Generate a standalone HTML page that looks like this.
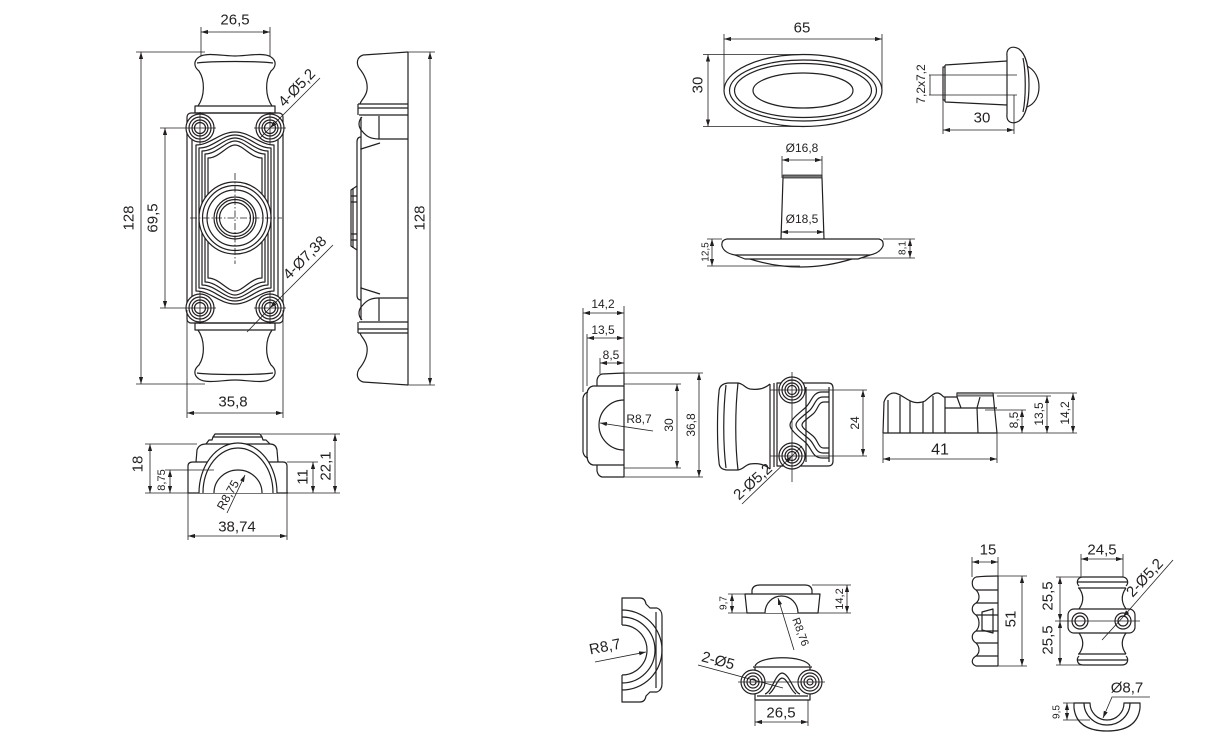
<!DOCTYPE html>
<html><head><meta charset="utf-8"><style>
html,body{margin:0;padding:0;background:#fff;}
svg{display:block;}
text{font-family:"Liberation Sans",Arial,sans-serif;fill:#231f20;}
</style></head><body>
<svg width="1206" height="736" viewBox="0 0 1206 736" xmlns="http://www.w3.org/2000/svg">
<defs>
<marker id="a" viewBox="0 0 10 6" refX="10" refY="3" markerWidth="7" markerHeight="4.2" markerUnits="userSpaceOnUse" orient="auto-start-reverse"><path d="M0,0 L10,3 L0,6z" fill="#231f20"/></marker>
</defs>

<g fill="none" stroke="#231f20" stroke-width="1.2" stroke-linejoin="round">

<g>
<path d="M199,57 C206,52 224,56 235,56 C246,56 264,52 271,57"/>
<path d="M199,57 C193,61 194,67 199,71 C205,80 205,96 198,106"/>
<path d="M271,57 C277,61 276,67 271,71 C265,80 265,96 272,106"/>
<path d="M197,63 C210,61 260,61 273,63"/>
<path d="M195,106 H275 V113 H195 Z"/>
</g>
<g transform="matrix(1 0 0 -1 0 436)">
<path d="M199,57 C206,52 224,56 235,56 C246,56 264,52 271,57"/>
<path d="M199,57 C193,61 194,67 199,71 C205,80 205,96 198,106"/>
<path d="M271,57 C277,61 276,67 271,71 C265,80 265,96 272,106"/>
<path d="M197,63 C210,61 260,61 273,63"/>
<path d="M195,106 H275 V113 H195 Z"/>
</g>
<rect x="187" y="113" width="96" height="210" rx="4"/>
<path d="M192,140 V296 M278,140 V296"/>
<path d="M196,145 C210,145 220,132 235,132 C250,132 260,145 274,145 L274,291 C260,291 250,304 235,304 C220,304 210,291 196,291 Z"/>
<path d="M199,148 C213,148 222,135 235,135 C248,135 257,148 271,148 L271,288 C257,288 248,301 235,301 C222,301 213,288 199,288 Z"/>
<path d="M202,151 C215,151 224,138 235,138 C246,138 255,151 268,151 L268,285 C255,285 246,298 235,298 C224,298 215,285 202,285 Z"/>
<path d="M205,154 C217,154 226,141 235,141 C244,141 253,154 265,154 L265,282 C253,282 244,295 235,295 C226,295 217,282 205,282 Z"/>
<path d="M208,158 C219,158 227,145 235,145 C243,145 251,158 262,158 L262,278 C251,278 243,291 235,291 C227,291 219,278 208,278 Z"/>
<g fill="#fff">
<circle cx="200" cy="128" r="14"/><circle cx="270" cy="128" r="14"/>
<circle cx="200" cy="308" r="14"/><circle cx="270" cy="308" r="14"/>
<circle cx="235" cy="218" r="36"/>
</g>
<circle cx="200" cy="128" r="11"/><circle cx="200" cy="128" r="8"/><circle cx="200" cy="128" r="5.5"/>
<circle cx="270" cy="128" r="11"/><circle cx="270" cy="128" r="8"/><circle cx="270" cy="128" r="5.5"/>
<circle cx="200" cy="308" r="11"/><circle cx="200" cy="308" r="8"/><circle cx="200" cy="308" r="5.5"/>
<circle cx="270" cy="308" r="11"/><circle cx="270" cy="308" r="8"/><circle cx="270" cy="308" r="5.5"/>
<circle cx="235" cy="218" r="32.5"/><circle cx="235" cy="218" r="28"/>
<circle cx="235" cy="218" r="21"/><circle cx="235" cy="218" r="18.5"/><circle cx="235" cy="218" r="15.5"/>

<g>
<path d="M363,55 L408,52"/>
<path d="M363,55 C357,57 356,63 359,68 C364,74 368,82 367,90 C366,97 361,100 360,104"/>
<path d="M358,104 H408 M358,108 H408 M359,115 H408 M358,104 V115"/>
<path d="M362,117 C358,121 358,127 362,131 C366,136 370,139 379,139"/>
<path d="M379,116 V139 H408"/>
<path d="M361,149 L380,143"/>
<path d="M361,117 V150"/>
</g>
<g transform="matrix(1 0 0 -1 0 437)">
<path d="M363,55 L408,52"/>
<path d="M363,55 C357,57 356,63 359,68 C364,74 368,82 367,90 C366,97 361,100 360,104"/>
<path d="M358,104 H408 M358,108 H408 M359,115 H408 M358,104 V115"/>
<path d="M362,117 C358,121 358,127 362,131 C366,136 370,139 379,139"/>
<path d="M379,116 V139 H408"/>
<path d="M361,149 L380,143"/>
<path d="M361,117 V150"/>
</g>
<path d="M361,148 V289"/>
<path d="M361,137 Q357,137 357,142 V295 Q357,300 361,300"/>
<path d="M357,186 L351,190 V246 L357,250"/>
<path d="M353,188 V248 M351,196 H357 M351,202 H357 M351,234 H357 M351,240 H357"/>
<path d="M408,52 V385"/>

<path d="M188,493 H288"/>
<path d="M188,493 V466 Q188,462 193,462 H283 Q287,462 287,466 V493"/>
<path d="M196,462 L197,450 Q199,444 206,444 H270 Q276,444 277,450 L278,462"/>
<path d="M206,444 L209,440 H212 L213,437 H262 L263,440 H266 L270,444"/>
<path d="M213,437 L215,434 H260 L262,437"/>
<path d="M199,493 A39,50 0 0 1 277,493" fill="#fff"/>
<path d="M203,493 A35,45 0 0 1 273,493"/>
<path d="M214,493 A24,23 0 0 1 262,493" fill="#fff"/>

<ellipse cx="803" cy="90.5" rx="79" ry="36"/>
<ellipse cx="803" cy="90.5" rx="73.5" ry="30.5"/>
<ellipse cx="803" cy="90.5" rx="68.5" ry="27"/>
<ellipse cx="803" cy="90.5" rx="50" ry="17.5"/>

<path d="M945,65 L1007,61 M945,102 L1007,105 M945,65 V102"/>
<path d="M945,67 H943 V100 H945"/>
<path d="M1007,56 V114"/>
<path d="M1007,56 C1006,48 1012,45 1019,49 C1026,54 1029,68 1029,85 C1029,102 1026,116 1019,121 C1012,125 1006,122 1007,114"/>
<path d="M1023,58 C1026,72 1026,98 1023,112"/>
<path d="M1027,66 C1035,70 1039,78 1039,87 C1039,96 1035,104 1027,107"/>

<path d="M783,178 L781,239 M822,178 L824,239"/>
<rect x="783" y="175" width="39" height="3" fill="#777" stroke-width="0.8"/>
<path d="M727,239 L879,239 Q884,240 883,246 Q880,253 870,255 L735,255 Q724,253 722,246 Q721,240 727,239 Z"/>
<path d="M735,255 L745,259 H858 L870,255"/>
<path d="M750,259 Q800,275 852,259"/>

<path d="M624,373 V477"/>
<path d="M624,373 L602,374 Q598,375 597,380 V386"/>
<path d="M624,386 H593 Q588,387 587,393 V457 Q588,464 593,465 H624"/>
<path d="M588,392 Q584,393 583,398 V452 Q584,457 588,458"/>
<path d="M597,465 V471 Q598,476 602,477 H624"/>
<path d="M624,400 A25,25 0 0 0 624,450"/>

<path d="M770,384 C764,389 758,390 750,389 C745,388 744,384 738,383 L728,383 Q719,384 719,392 C717,410 717,445 719,462 Q719,470 728,470 L738,470 C744,469 745,465 750,464 C758,463 764,464 770,469"/>
<path d="M726,385 C723,410 723,445 726,468"/>
<path d="M738,383 C735,410 735,445 738,470"/>
<path d="M770,384 V469 M774,383 V467"/>
<path d="M777,383 H828 Q833,383 833,388 V461 Q833,466 828,466 H777 Z"/>
<path d="M806,387 V462 M829,387 V462"/>
<path d="M829,392 H822 C812,392 812,402 805,408 C798,414 790,420 790,425 C790,430 798,436 805,442 C812,448 812,458 822,458 H829"/>
<path d="M829,397 H823 C815,397 815,406 809,411 C802,417 796,421 796,425 C796,429 802,433 809,439 C815,444 815,453 823,453 H829"/>
<path d="M829,402 H824 C818,402 818,410 813,414 C807,419 802,422 802,425 C802,428 807,431 813,436 C818,440 818,448 824,448 H829"/>
<g fill="#fff"><circle cx="792" cy="390" r="13"/><circle cx="792" cy="456" r="13"/></g>
<circle cx="792" cy="390" r="10"/><circle cx="792" cy="390" r="7"/><circle cx="792" cy="390" r="4.5"/>
<circle cx="792" cy="456" r="10"/><circle cx="792" cy="456" r="7"/><circle cx="792" cy="456" r="4.5"/>

<path d="M883,433 H997"/>
<path d="M883,433 L884,402 C886,396 890,393 894,393 C900,393 906,400 913,402 C917,403 921,403 925,401 C929,398 933,393 937,393 C941,393 942,396 944,397 H957 V393 H993 L997,433"/>
<rect x="957" y="393" width="36" height="3" fill="#aaa" stroke-width="0.8"/>
<path d="M888,400 V433 M900,396 V433 M910,401 V433 M923,402 V433 M933,396 V433 M945,397 V433"/>
<path d="M945,408 H997 M957,397 L961,408 M980,397 L977,408 L978,433"/>

<path d="M622,625 V598 H640 Q645,598 646,604 L650,608 H657 Q662,610 662,616 V684 Q662,690 657,692 H650 L646,696 Q645,702 640,702 H622 V675"/>
<path d="M622,675 A25,25 0 0 0 622,625"/>
<path d="M622,617 A33,33 0 0 1 622,683"/>
<path d="M622,610 A40,40 0 0 1 622,690"/>
<path d="M656,612 V688"/>

<path d="M752,594 V590 Q753,585 760,585 H805 Q811,585 812,590 V594"/>
<path d="M745,594 H820 L818,613 H747 Z"/>
<path d="M765,613 A16.5,17 0 0 1 798,613" fill="#fff"/>

<path d="M755,666 C760,655 805,655 810,666"/>
<path d="M753,667 H812 M755,667 V700 H810 V667 M757,696 H808"/>
<path d="M765,694 C772,692 775,674 782,673 C790,674 793,692 800,694"/>
<path d="M769,694 C775,690 777,679 782,678 C788,679 790,690 796,694"/>
<g fill="#fff"><circle cx="753" cy="682" r="12"/><circle cx="810" cy="682" r="12"/></g>
<circle cx="753" cy="682" r="9"/><circle cx="753" cy="682" r="6"/><circle cx="753" cy="682" r="3"/>
<circle cx="810" cy="682" r="9"/><circle cx="810" cy="682" r="6"/><circle cx="810" cy="682" r="3"/>

<path d="M998,576 V666"/>
<path d="M976,577 Q985,576 998,576"/>
<path d="M976,577 C971,579 971,587 976,590 C980,594 980,600 976,603 C971,606 971,612 976,615 C980,619 980,627 976,631 C971,634 971,640 976,643 C980,647 980,653 976,656 C971,659 971,664 976,666 Q985,666 998,666"/>
<path d="M976,590 H998 M976,603 H998 M976,615 H998 M976,631 H998 M976,643 H998 M976,656 H998"/>
<path d="M982,612 L993,609 V633 L982,630 Z"/>

<g>
<path d="M1079,586 C1076,583 1077,577 1083,577 H1122 C1128,577 1129,583 1126,586"/>
<path d="M1077,582 H1127 M1078,588 H1126"/>
<path d="M1079,588 C1084,595 1084,602 1079,609 M1126,588 C1121,595 1121,602 1126,609"/>
</g>
<g transform="matrix(1 0 0 -1 0 1242)">
<path d="M1079,586 C1076,583 1077,577 1083,577 H1122 C1128,577 1129,583 1126,586"/>
<path d="M1077,582 H1127 M1078,588 H1126"/>
<path d="M1079,588 C1084,595 1084,602 1079,609 M1126,588 C1121,595 1121,602 1126,609"/>
</g>
<rect x="1068" y="609" width="67" height="24" rx="6" fill="#fff"/>
<circle cx="1080" cy="621" r="8"/><circle cx="1080" cy="621" r="5"/>
<circle cx="1123" cy="621" r="8"/><circle cx="1123" cy="621" r="5"/>

<path d="M1074,703 H1090 A17,17 0 0 0 1124,703 H1140 V708 C1138,725 1125,731 1107,731 C1089,731 1076,725 1074,708 Z"/>
<path d="M1084,703 A23,22 0 0 0 1130,703"/>
</g>

<g fill="none" stroke="#231f20" stroke-width="0.8">
<path d="M201,32 H270" marker-start="url(#a)" marker-end="url(#a)"/>
<path d="M201,27 V56 M270,27 V56"/>
<path d="M141,52 V384" marker-start="url(#a)" marker-end="url(#a)"/>
<path d="M136,52 H205 M136,384 H205"/>
<path d="M165,128 V308" marker-start="url(#a)" marker-end="url(#a)"/>
<path d="M160,128 H216 M160,308 H216 M254,128 H286 M254,308 H286"/>
<path d="M200,112 V144 M270,112 V144 M200,292 V324 M270,292 V324"/>
<path d="M187,413 H283" marker-start="url(#a)" marker-end="url(#a)"/>
<path d="M187,310 V418 M283,310 V418"/>
<path d="M190,218 H282 M235,173 V264" stroke-dasharray="7 2 1.5 2"/>
<path d="M320,78 L270,128" marker-end="url(#a)"/>
<path d="M270,128 L260,138"/>
<path d="M333,245 L270,308" marker-end="url(#a)"/>
<path d="M270,308 L247,332"/>
<path d="M430,52 V385" marker-start="url(#a)" marker-end="url(#a)"/>
<path d="M408,52 H435 M408,385 H435"/>
<path d="M150,444 V493" marker-start="url(#a)" marker-end="url(#a)"/>
<path d="M145,444 H197 M145,493 H188"/>
<path d="M170,470 V493" marker-start="url(#a)" marker-end="url(#a)"/>
<path d="M165,470 H214"/>
<path d="M313,462 V493" marker-start="url(#a)" marker-end="url(#a)"/>
<path d="M287,462 H318"/>
<path d="M335,434 V493" marker-start="url(#a)" marker-end="url(#a)"/>
<path d="M261,434 H340 M287,493 H340"/>
<path d="M188,536 H287" marker-start="url(#a)" marker-end="url(#a)"/>
<path d="M188,493 V540 M287,493 V540"/>
<path d="M227,513 L245,475" marker-end="url(#a)"/>
<path d="M724,39 H882" marker-start="url(#a)" marker-end="url(#a)"/>
<path d="M724,34 V90 M882,34 V90"/>
<path d="M708,54.5 V126.5" marker-start="url(#a)" marker-end="url(#a)"/>
<path d="M703,54.5 H803 M703,126.5 H803"/>
<path d="M929,75 H1017 M929,95 H1017"/>
<path d="M930,75 V95"/>
<path d="M943,130 H1014" marker-start="url(#a)" marker-end="url(#a)"/>
<path d="M943,100 V134 M1014,95 V134"/>
<path d="M782,160 H822" marker-start="url(#a)" marker-end="url(#a)"/>
<path d="M782,156 V178 M822,156 V178"/>
<path d="M781,232 H824" marker-start="url(#a)" marker-end="url(#a)"/>
<path d="M712,239 V266" marker-start="url(#a)" marker-end="url(#a)"/>
<path d="M707,239 H722 M707,266 H800"/>
<path d="M910,239 V258" marker-start="url(#a)" marker-end="url(#a)"/>
<path d="M883,239 H915 M860,258 H915"/>
<path d="M583,313 H624" marker-start="url(#a)" marker-end="url(#a)"/>
<path d="M587,338 H624" marker-start="url(#a)" marker-end="url(#a)"/>
<path d="M600,363 H624" marker-start="url(#a)" marker-end="url(#a)"/>
<path d="M583,308 V392 M587,334 V386 M600,358 V374 M624,306 V373"/>
<path d="M677,384 V468" marker-start="url(#a)" marker-end="url(#a)"/>
<path d="M699,373 V477" marker-start="url(#a)" marker-end="url(#a)"/>
<path d="M624,373 H703 M624,477 H703 M624,384 H681 M624,468 H681"/>
<path d="M653,431 L600,423" marker-end="url(#a)"/>
<path d="M792,372 V482"/>
<path d="M770,390 H867 M770,456 H867"/>
<path d="M863,390 V456" marker-start="url(#a)" marker-end="url(#a)"/>
<path d="M742,504 L792,456" marker-end="url(#a)"/>
<path d="M792,456 L802,446"/>
<path d="M883,459 H997" marker-start="url(#a)" marker-end="url(#a)"/>
<path d="M883,433 V463 M997,433 V463"/>
<path d="M1022,410 V433" marker-start="url(#a)" marker-end="url(#a)"/>
<path d="M1047,396 V433" marker-start="url(#a)" marker-end="url(#a)"/>
<path d="M1073,393 V433" marker-start="url(#a)" marker-end="url(#a)"/>
<path d="M993,393 H1077 M997,396 H1051 M985,410 H1026 M997,433 H1077"/>
<path d="M595,662 L646,652" marker-end="url(#a)"/>
<path d="M732,594 V613" marker-start="url(#a)" marker-end="url(#a)"/>
<path d="M728,594 H745 M728,613 H747"/>
<path d="M847,585 V613" marker-start="url(#a)" marker-end="url(#a)"/>
<path d="M812,585 H851 M818,613 H851"/>
<path d="M794,650 L778,598" marker-end="url(#a)"/>
<path d="M738,682 H825"/>
<path d="M698,665 L783,688"/>
<path d="M755,722 H808" marker-start="url(#a)" marker-end="url(#a)"/>
<path d="M755,700 V726 M808,700 V726"/>
<path d="M972,562 H998" marker-start="url(#a)" marker-end="url(#a)"/>
<path d="M972,557 V577 M998,557 V576"/>
<path d="M1022,576 V666" marker-start="url(#a)" marker-end="url(#a)"/>
<path d="M998,576 H1027 M998,666 H1027"/>
<path d="M1081,559 H1123" marker-start="url(#a)" marker-end="url(#a)"/>
<path d="M1081,554 V577 M1123,554 V577"/>
<path d="M1060,577 V621" marker-start="url(#a)" marker-end="url(#a)"/>
<path d="M1060,621 V665" marker-start="url(#a)" marker-end="url(#a)"/>
<path d="M1056,577 H1100 M1056,665 H1100 M1055,621 H1140"/>
<path d="M1173,560 L1123,617" marker-end="url(#a)"/>
<path d="M1123,617 L1102,640"/>
<path d="M1067,703 V720" marker-start="url(#a)" marker-end="url(#a)"/>
<path d="M1063,703 H1074 M1063,720 H1090"/>
<path d="M1150,697 H1112 L1103,718" marker-end="url(#a)"/>
</g>

<g font-size="15" text-anchor="middle" dominant-baseline="central">
<text x="235" y="20">26,5</text>
<text transform="translate(129,218) rotate(-90)">128</text>
<text transform="translate(153,218) rotate(-90)">69,5</text>
<text x="233" y="402">35,8</text>
<text transform="translate(420,218) rotate(-90)">128</text>
<text transform="translate(297,88) rotate(-46)">4-Ø5,2</text>
<text transform="translate(305,258) rotate(-45)">4-Ø7,38</text>
<text transform="translate(138,464) rotate(-90)">18</text>
<text transform="translate(303,477) rotate(-90)">11</text>
<text transform="translate(326,466) rotate(-90)">22,1</text>
<text x="237" y="527">38,74</text>
<text x="802" y="28">65</text>
<text transform="translate(698,85) rotate(-90)">30</text>
<text x="982" y="118">30</text>
<text transform="translate(753,482) rotate(-42)">2-Ø5,2</text>
<text x="940" y="450" font-size="16">41</text>
<text transform="translate(605,647) rotate(-11)">R8,7</text>
<text transform="translate(718,661) rotate(15)">2-Ø5</text>
<text x="781" y="713">26,5</text>
<text x="988" y="550">15</text>
<text transform="translate(1011,619) rotate(-90)">51</text>
<text x="1102" y="550">24,5</text>
<text transform="translate(1048,596) rotate(-90)">25,5</text>
<text transform="translate(1048,640) rotate(-90)">25,5</text>
<text transform="translate(1145,578) rotate(-47)">2-Ø5,2</text>
<text x="1127" y="688">Ø8,7</text>
</g>
<g font-size="12" text-anchor="middle" dominant-baseline="central">
<text x="603" y="304">14,2</text>
<text x="603" y="330">13,5</text>
<text x="611" y="355">8,5</text>
<text x="639" y="419">R8,7</text>
<text transform="translate(669,425) rotate(-90)">30</text>
<text transform="translate(691,425) rotate(-90)">36,8</text>
<text transform="translate(855,423) rotate(-90)">24</text>
<text transform="translate(1014,420) rotate(-90)">8,5</text>
<text transform="translate(1039,414) rotate(-90)">13,5</text>
<text transform="translate(1065,413) rotate(-90)">14,2</text>
<text transform="translate(228,495) rotate(-60)">R8,75</text>
<text transform="translate(921,84) rotate(-90)">7,2x7,2</text>
<text x="802" y="148">Ø16,8</text>
<text x="802" y="219">Ø18,5</text>
</g>
<g font-size="11" text-anchor="middle" dominant-baseline="central">
<text transform="translate(162,480) rotate(-90)">8,75</text>
<text transform="translate(840,599) rotate(-90)">14,2</text>
<text transform="translate(800,632) rotate(70)">R8,76</text>
</g>
<g font-size="10" text-anchor="middle" dominant-baseline="central">
<text transform="translate(706,252) rotate(-90)">12,5</text>
<text transform="translate(903,248) rotate(-90)">8,1</text>
<text transform="translate(724,603) rotate(-90)">9,7</text>
<text transform="translate(1057,712) rotate(-90)">9,5</text>
</g>
</svg>
</body></html>
